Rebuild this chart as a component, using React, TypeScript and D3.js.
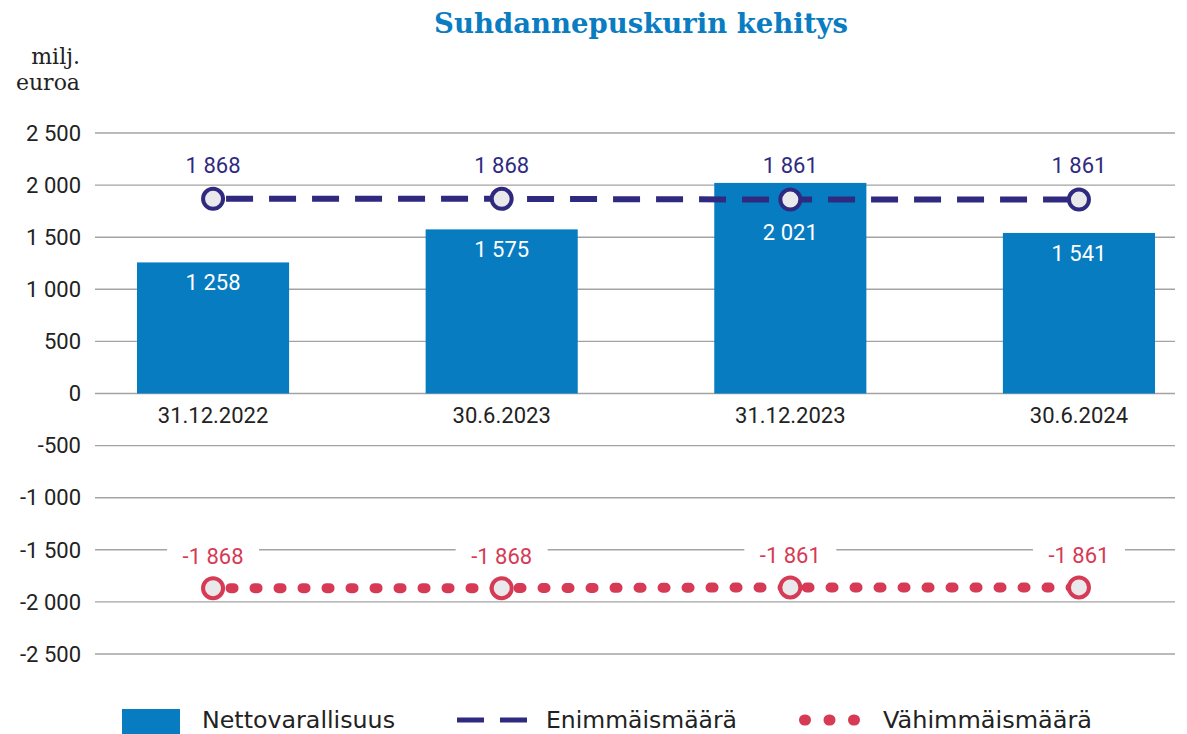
import React from "react";
import * as d3 from "d3";

const categories = ["31.12.2022", "30.6.2023", "31.12.2023", "30.6.2024"];
const nettovarallisuus = [1258, 1575, 2021, 1541];
const enimmaismaara = [1868, 1868, 1861, 1861];
const vahimmaismaara = [-1868, -1868, -1861, -1861];
const yTicks = [2500, 2000, 1500, 1000, 500, 0, -500, -1000, -1500, -2000, -2500];
const title = "Suhdannepuskurin kehitys";
const unitLines = ["milj.", "euroa"];
const legendLabels = ["Nettovarallisuus", "Enimmäismäärä", "Vähimmäismäärä"];

const W = 1187;
const H = 734;
const BAR = "#087cc1";
const MAXC = "#2f2a80";
const MINC = "#d63a55";
const MARKER_FILL = "#e9e9eb";
const GRID = "#a3a3a3";
const TEXT = "#222";

const loc = d3.formatLocale({ decimal: ",", thousands: "\u2009", grouping: [3], currency: ["", ""], minus: "-" });
const fmt = (v: number) => loc.format(",d")(v).replace("\u2009", " ");

export default function App() {
  const y = d3.scaleLinear().domain([-2500, 2500]).range([654, 133]);
  const x = d3.scaleBand<string>().domain(categories).range([137, 1155]).paddingInner(0.473).paddingOuter(0);
  const cx = (c: string) => (x(c) as number) + x.bandwidth() / 2;

  const line = d3.line<number>().x((_, i) => cx(categories[i])).y((d) => y(d));
  const maxLineY = (i: number) => y(enimmaismaara[i]);

  const sans = "Roboto, 'Open Sans', sans-serif";
  const slab = "'DejaVu Serif', serif";
  const legendFont = "'DejaVu Sans', sans-serif";

  return (
    <svg width={W} height={H} style={{ position: "absolute", left: 0, top: 0, background: "#fff" }} fontFamily={sans}>
      <text x={641} y={33} textAnchor="middle" fontFamily={slab} fontWeight={700} fontSize={27.5} fill="#0a7cc1">
        {title}
      </text>
      {unitLines.map((t, i) => (
        <text key={t} x={80} y={64 + i * 26} textAnchor="end" fontFamily={slab} fontSize={22} fill={TEXT}>
          {t}
        </text>
      ))}
      {yTicks.map((t) => (
        <g key={t}>
          <line x1={95} x2={1175} y1={y(t)} y2={y(t)} stroke={GRID} strokeWidth={1.4} />
          <text x={81} y={y(t)} dy="0.35em" textAnchor="end" fontSize={22} fill={TEXT}>
            {fmt(t)}
          </text>
        </g>
      ))}
      {categories.map((c, i) => {
        const v = nettovarallisuus[i];
        const top = y(v);
        let ly = top + 20;
        if (Math.abs(ly - maxLineY(i)) < 25) ly = maxLineY(i) + 33;
        return (
          <g key={c}>
            <rect x={x(c)} y={top} width={x.bandwidth()} height={y(0) - top} fill={BAR} />
            <text x={cx(c)} y={ly} dy="0.35em" textAnchor="middle" fontSize={22} fill="#fff">
              {fmt(v)}
            </text>
            <text x={cx(c)} y={y(0) + 22} dy="0.35em" textAnchor="middle" fontSize={22} fill={TEXT}>
              {c}
            </text>
          </g>
        );
      })}
      {categories.map((c, i) => (
        <g key={"minlab" + c}>
          <rect x={cx(c) - 46} y={y(vahimmaismaara[i]) - 45} width={92} height={26} fill="#fff" />
          <text x={cx(c)} y={y(vahimmaismaara[i]) - 32} dy="0.35em" textAnchor="middle" fontSize={22} fill={MINC}>
            {fmt(vahimmaismaara[i])}
          </text>
        </g>
      ))}
      <path d={line(enimmaismaara) || ""} fill="none" stroke={MAXC} strokeWidth={6} strokeDasharray="27 16" strokeDashoffset={-13} />
      <path d={line(vahimmaismaara) || ""} fill="none" stroke={MINC} strokeWidth={10} strokeLinecap="round" strokeDasharray="3 21" strokeDashoffset={-17.5} />
      {categories.map((c, i) => (
        <g key={"mk" + c}>
          <circle cx={cx(c)} cy={y(enimmaismaara[i])} r={10} fill={MARKER_FILL} stroke={MAXC} strokeWidth={4} />
          <text x={cx(c)} y={y(enimmaismaara[i]) - 34} dy="0.35em" textAnchor="middle" fontSize={22} fill={MAXC}>
            {fmt(enimmaismaara[i])}
          </text>
          <circle cx={cx(c)} cy={y(vahimmaismaara[i])} r={10} fill={MARKER_FILL} stroke={MINC} strokeWidth={4} />
        </g>
      ))}
      <rect x={122} y={709} width={58} height={25} fill={BAR} />
      <text x={202} y={728} fontFamily={legendFont} fontSize={23} textLength={193} lengthAdjust="spacingAndGlyphs" fill={TEXT}>{legendLabels[0]}</text>
      <line x1={457} x2={528} y1={720} y2={720} stroke={MAXC} strokeWidth={5} strokeDasharray="27 16" />
      <text x={546} y={728} fontFamily={legendFont} fontSize={23} textLength={191} lengthAdjust="spacingAndGlyphs" fill={TEXT}>{legendLabels[1]}</text>
      <line x1={802} x2={856} y1={720} y2={720} stroke={MINC} strokeWidth={11} strokeLinecap="round" strokeDasharray="1 23.5" strokeDashoffset={-2.5} />
      <text x={883} y={728} fontFamily={legendFont} fontSize={23} textLength={209} lengthAdjust="spacingAndGlyphs" fill={TEXT}>{legendLabels[2]}</text>
    </svg>
  );
}
